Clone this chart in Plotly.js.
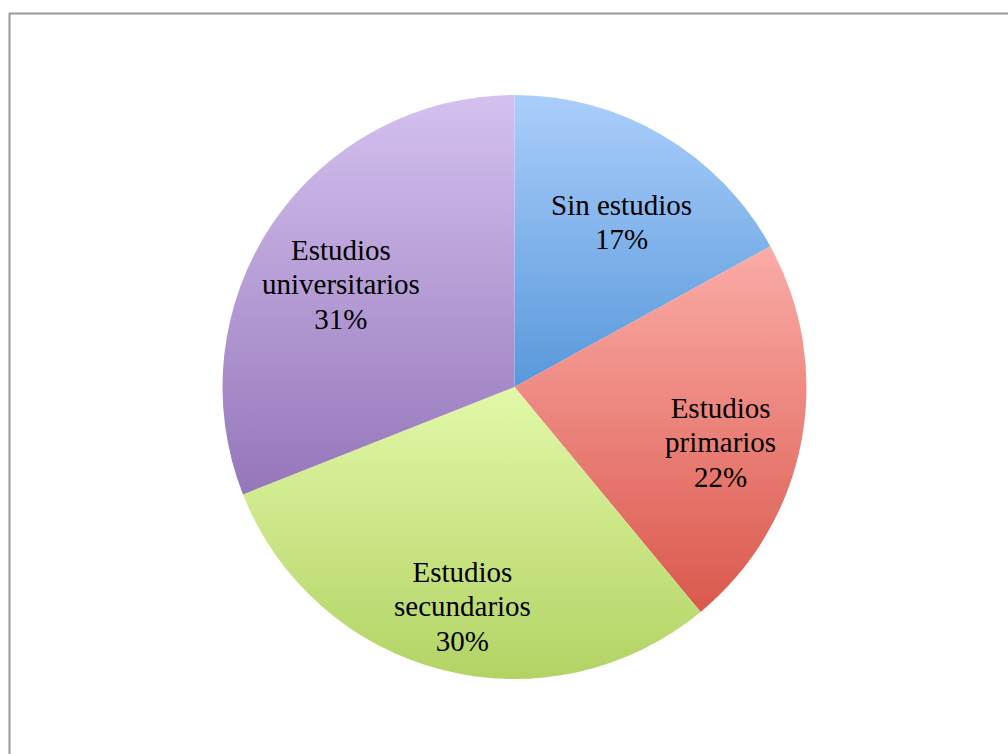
<!DOCTYPE html>
<html>
<head>
<meta charset="utf-8">
<script src="https://cdn.plot.ly/plotly-3.0.1.min.js"></script>
<style>
  html, body { margin: 0; padding: 0; background: #ffffff; }
  #chart { width: 1008px; height: 754px; }
</style>
</head>
<body>
<div id="chart"></div>
<script>
const categories = ['Sin estudios', 'Estudios<br>primarios', 'Estudios<br>secundarios', 'Estudios<br>universitarios'];
const values = [17, 22, 30, 31];
const topColors = ['#aacefb', '#fbaca7', '#e2f8a8', '#d4c1ef'];
const bottomColors = ['#5898da', '#da584c', '#b2d364', '#9576ba'];
const midColors = ['#80b3ea', '#ee8880', '#cbe68a', '#b49ad5'];

const W = 1008, H = 754;
const domX = [0.2197, 0.8011], domY = [0.0995, 0.874];
const labelRadius = 0.72;
const labelShift = -16;
const FONT = 'Liberation Serif';

const trace = {
  type: 'pie',
  labels: categories,
  values: values,
  sort: false,
  direction: 'clockwise',
  rotation: 0,
  textinfo: 'none',
  marker: { colors: midColors, line: { width: 0 } },
  hoverinfo: 'none',
  domain: { x: domX, y: domY }
};

// label annotations placed along each slice's mid-angle
const total = values.reduce((a, b) => a + b, 0);
const cxPx = (domX[0] + domX[1]) / 2 * W;
const cyPx = (domY[0] + domY[1]) / 2 * H;
const Rpx = Math.min((domX[1] - domX[0]) * W, (domY[1] - domY[0]) * H) / 2;
let cum = 0;
const annotations = values.map(function (v, i) {
  const mid = (cum + v / 2) / total * 2 * Math.PI;
  cum += v;
  const px = cxPx + labelRadius * Rpx * Math.sin(mid);
  const py = cyPx + labelRadius * Rpx * Math.cos(mid);
  const lines = categories[i].split('<br>').concat([Math.round(v / total * 100) + '%']);
  return {
    xref: 'paper', yref: 'paper',
    x: px / W, y: py / H,
    yshift: labelShift,
    xanchor: 'center', yanchor: 'middle',
    showarrow: false, align: 'center',
    text: lines.map(l => '<span style="font-size:29px">' + l + '</span>').join('<br>'),
    font: { family: FONT, size: 26.5, color: '#000000' }
  };
});

const layout = {
  width: W,
  height: H,
  margin: { l: 0, r: 0, t: 0, b: 0 },
  paper_bgcolor: '#ffffff',
  showlegend: false,
  annotations: annotations,
  shapes: [{
    type: 'rect', xref: 'paper', yref: 'paper',
    x0: 9.5 / W, x1: 1.2, y0: -0.2, y1: 1 - 13.5 / H,
    line: { color: '#999999', width: 2 }, fillcolor: 'rgba(0,0,0,0)'
  }]
};

Plotly.newPlot('chart', [trace], layout, { displayModeBar: false, staticPlot: true }).then(function (gd) {
  const svg = gd.querySelector('svg.main-svg');
  const defs = svg.querySelector('defs');
  const ns = 'http://www.w3.org/2000/svg';
  const slices = gd.querySelectorAll('g.slice path.surface');
  slices.forEach(function (p, i) {
    const g = document.createElementNS(ns, 'linearGradient');
    g.setAttribute('id', 'sliceGrad' + i);
    g.setAttribute('x1', '0'); g.setAttribute('y1', '0');
    g.setAttribute('x2', '0'); g.setAttribute('y2', '1');
    const s1 = document.createElementNS(ns, 'stop');
    s1.setAttribute('offset', '0'); s1.setAttribute('stop-color', topColors[i]);
    const s2 = document.createElementNS(ns, 'stop');
    s2.setAttribute('offset', '1'); s2.setAttribute('stop-color', bottomColors[i]);
    g.appendChild(s1); g.appendChild(s2);
    defs.appendChild(g);
    p.style.fill = 'url(#sliceGrad' + i + ')';
  });
});
</script>
</body>
</html>
